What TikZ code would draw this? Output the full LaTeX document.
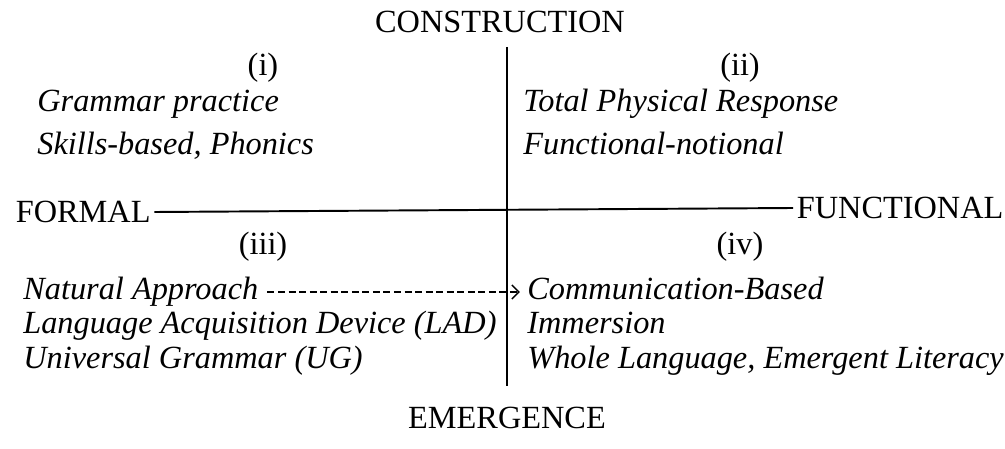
\documentclass[tikz,border=0pt]{standalone}
\usepackage{fontspec}
\setmainfont{Liberation Serif}
\usetikzlibrary{arrows.meta, positioning}

\begin{document}
\begin{tikzpicture}[
      x=0.02cm, y=-0.02cm,
      node distance = 0pt,
      axis/.style  = {font=\fontsize{18.4}{22}\selectfont, inner sep=2pt},
      quad/.style  = {font=\fontsize{18.4}{22}\selectfont, inner sep=0pt},
      item/.style  = {font=\fontsize{18.4}{22}\selectfont\itshape, inner sep=0pt,
                      text height=14pt, text depth=5pt, anchor=west},
      line/.style  = {line width=1.1pt},
      darr/.style  = {dashed, dash pattern=on 4pt off 2pt, line width=0.8pt,
                      -{Straight Barb[length=4pt, width=8pt, line width=0.8pt]}}
    ]
    \useasboundingbox (0,0) rectangle (1005,449);

    % ---- axis labels ----
    \node[axis] (construction) at (500,22)  {CONSTRUCTION};
    \node[axis] (emergence)    at (507,418) {EMERGENCE};
    \node[axis, anchor=west] (formal)     at (12,212) {FORMAL};
    \node[axis, anchor=west] (functional) at (793,208) {FUNCTIONAL};

    % ---- axes ----
    \coordinate (top)    at (507,47);
    \coordinate (bottom) at (507,386);
    \draw[line] (top) -- (bottom);
    \draw[line] (formal.east) -- (functional.west);

    % ---- quadrant (i) ----
    \node[quad] (qi) at (263,68) {(i)};
    \node[item] (grammar) at (37,104) {Grammar practice};
    \node[item, below=5pt of grammar.south west, anchor=north west] (skills) {Skills-based, Phonics};

    % ---- quadrant (ii) ----
    \node[quad] (qii) at (740,68) {(ii)};
    \node[item] (tpr) at (523,104) {Total Physical Response};
    \node[item, below=5pt of tpr.south west, anchor=north west] (notional) {Functional-notional};

    % ---- quadrant (iii) ----
    \node[quad] (qiii) at (263,247) {(iii)};
    \node[item] (natural) at (23,292) {Natural Approach};
    \node[item, below=of natural.south west, anchor=north west] (lad) {Language Acquisition Device (LAD)};
    \node[item, below=of lad.south west, anchor=north west] (ug) {Universal Grammar (UG)};

    % ---- quadrant (iv) ----
    \node[quad] (qiv) at (740,247) {(iv)};
    \node[item] (comm) at (527,292) {Communication-Based};
    \node[item, below=of comm.south west, anchor=north west] (immersion) {Immersion};
    \node[item, below=of immersion.south west, anchor=north west] (whole) {Whole Language, Emergent Literacy};

    % ---- dashed link from (iii) to (iv) ----
    \draw[darr] ([xshift=5pt]natural.east) -- ([xshift=-4pt]comm.west);

  \end{tikzpicture}
\end{document}
